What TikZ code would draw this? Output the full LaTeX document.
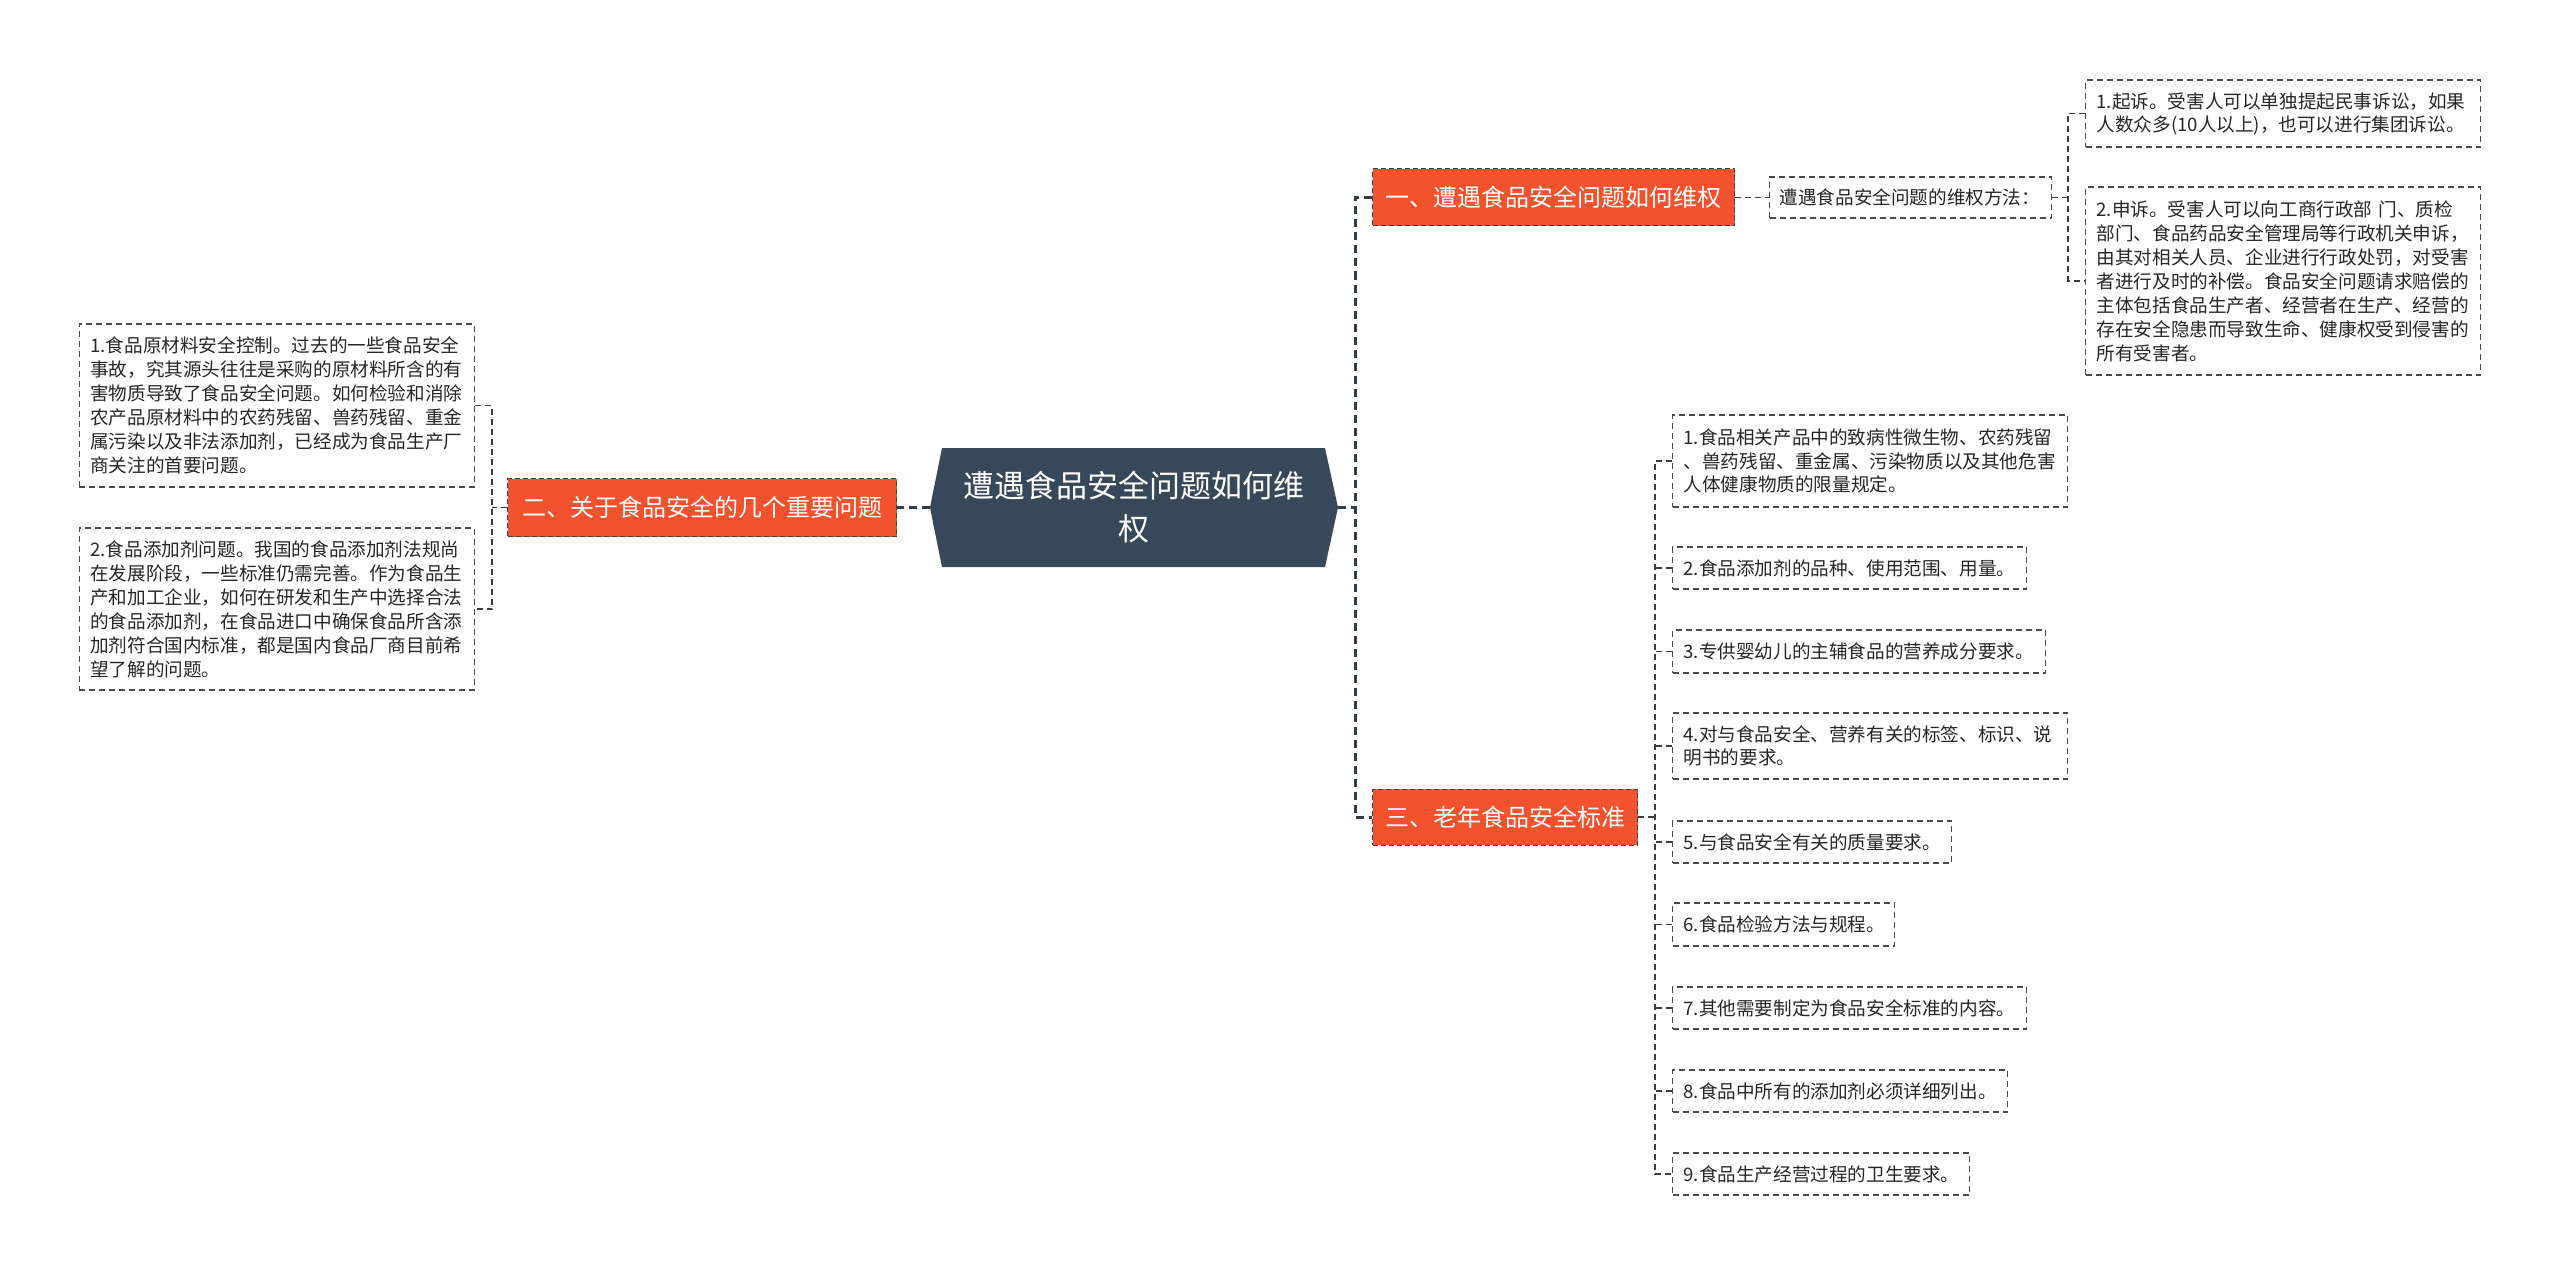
\documentclass[tikz,border=0pt]{standalone}
\usepackage{fontspec}
\setmainfont{Noto Sans CJK SC}
\usetikzlibrary{calc}
\definecolor{orng}{RGB}{242,82,45}
\definecolor{slate}{RGB}{55,72,90}
\definecolor{lnk}{RGB}{60,60,60}
\definecolor{boxc}{RGB}{75,75,75}
\begin{document}
\begin{tikzpicture}[x=1pt,y=-1pt,
  item/.style={draw=boxc, dash pattern=on 6pt off 4pt, line width=1.3pt, fill=white,
    align=left, inner xsep=11pt, inner ysep=0pt, text=black!85,
    font=\fontsize{18.6}{24}\selectfont},
  topic/.style={fill=orng, draw=black!75, dash pattern=on 5pt off 3pt, line width=1pt,
    text=white, inner sep=0pt, font=\fontsize{24}{28}\selectfont},
  lkone/.style={draw=slate!85!black, line width=3pt, dash pattern=on 8pt off 5pt},
  lktwo/.style={draw=lnk, line width=1.4pt, dash pattern=on 6pt off 4pt}]
\useasboundingbox (0,0) rectangle (2560,1276);

% trunk coordinates
\coordinate (t1) at (1355,0);
\coordinate (t2) at (2068,0);
\coordinate (t3) at (492,0);
\coordinate (t4) at (1655,0);

% central node
\coordinate (hl) at (930,507.5);
\coordinate (hr) at (1338,507.5);
\fill[slate] (hl) -- (942,448) -- (1325,448) -- (hr) -- (1325,567) -- (942,567) -- cycle;
\node[text=white, align=center, font=\fontsize{31}{43}\selectfont] (center) at (1134,507.5)
  {遭遇食品安全问题如何维\\权};

% main topics
\node[topic, anchor=west, minimum width=362pt, minimum height=57pt] (n1) at (1372,197.5) {一、遭遇食品安全问题如何维权};
\node[topic, anchor=east, minimum width=389pt, minimum height=58pt] (n2) at (897,507.5) {二、关于食品安全的几个重要问题};
\node[topic, anchor=west, minimum width=265pt, minimum height=56pt] (n3) at (1372,817) {三、老年食品安全标准};

% branch 1
\node[item, anchor=west, text width=262pt, minimum height=41pt, inner xsep=10pt] (m) at (1769,197.5) {遭遇食品安全问题的维权方法：};
\node[item, anchor=west, text width=373pt, minimum height=67pt, font=\fontsize{18.6}{23}\selectfont] (r1) at (2085,113.5)
  {1.起诉。受害人可以单独提起民事诉讼，如果\\人数众多(10人以上)，也可以进行集团诉讼。};
\node[item, anchor=west, text width=373pt, minimum height=188pt] (r2) at (2085,281)
  {2.申诉。受害人可以向工商行政部 门、质检\\部门、食品药品安全管理局等行政机关申诉，\\由其对相关人员、企业进行行政处罚，对受害\\者进行及时的补偿。食品安全问题请求赔偿的\\主体包括食品生产者、经营者在生产、经营的\\存在安全隐患而导致生命、健康权受到侵害的\\所有受害者。};

% branch 2
\node[item, anchor=east, text width=373pt, minimum height=163pt] (l1) at (475,405.5)
  {1.食品原材料安全控制。过去的一些食品安全\\事故，究其源头往往是采购的原材料所含的有\\害物质导致了食品安全问题。如何检验和消除\\农产品原材料中的农药残留、兽药残留、重金\\属污染以及非法添加剂，已经成为食品生产厂\\商关注的首要问题。};
\node[item, anchor=east, text width=373pt, minimum height=162pt] (l2) at (475,609)
  {2.食品添加剂问题。我国的食品添加剂法规尚\\在发展阶段，一些标准仍需完善。作为食品生\\产和加工企业，如何在研发和生产中选择合法\\的食品添加剂，在食品进口中确保食品所含添\\加剂符合国内标准，都是国内食品厂商目前希\\望了解的问题。};

% branch 3
\node[item, anchor=west, text width=373pt, minimum height=92pt, font=\fontsize{18.6}{23.5}\selectfont] (s1) at (1672,461)
  {1.食品相关产品中的致病性微生物、农药残留\\、兽药残留、重金属、污染物质以及其他危害\\人体健康物质的限量规定。};
\node[item, anchor=west, text width=332pt, minimum height=42pt] (s2) at (1672,568) {2.食品添加剂的品种、使用范围、用量。};
\node[item, anchor=west, text width=351pt, minimum height=43pt] (s3) at (1672,651.5) {3.专供婴幼儿的主辅食品的营养成分要求。};
\node[item, anchor=west, text width=373pt, minimum height=66pt, font=\fontsize{18.6}{23.5}\selectfont] (s4) at (1672,746)
  {4.对与食品安全、营养有关的标签、标识、说\\明书的要求。};
\node[item, anchor=west, text width=257pt, minimum height=42pt] (s5) at (1672,842) {5.与食品安全有关的质量要求。};
\node[item, anchor=west, text width=200pt, minimum height=43pt] (s6) at (1672,924.5) {6.食品检验方法与规程。};
\node[item, anchor=west, text width=332pt, minimum height=42pt] (s7) at (1672,1008) {7.其他需要制定为食品安全标准的内容。};
\node[item, anchor=west, text width=313pt, minimum height=42pt] (s8) at (1672,1091) {8.食品中所有的添加剂必须详细列出。};
\node[item, anchor=west, text width=275pt, minimum height=42pt] (s9) at (1672,1174) {9.食品生产经营过程的卫生要求。};

% level-1 connectors
\draw[lkone] (hl) -- (n2.east);
\draw[lkone] (hr) -- (hr -| t1);
\draw[lkone] (n1.west) -- (n1.west -| t1) -- (n3.west -| t1) -- (n3.west);

% level-2 connectors
\draw[lktwo] (n1.east) -- (m.west);
\draw[lktwo] (m.east) -- (m.east -| t2);
\draw[lktwo] (r1.west) -- (r1.west -| t2) -- (r2.west -| t2) -- (r2.west);

\draw[lktwo] (n2.west) -- (n2.west -| t3);
\draw[lktwo] (l1.east) -- (l1.east -| t3) -- (l2.east -| t3) -- (l2.east);

\draw[lktwo] (n3.east) -- (n3.east -| t4);
\draw[lktwo] (s1.west) -- (s1.west -| t4) -- (s9.west -| t4) -- (s9.west);
\foreach \s in {s2,s3,s4,s5,s6,s7,s8}
  \draw[lktwo] (\s.west) -- (\s.west -| t4);
\end{tikzpicture}
\end{document}
